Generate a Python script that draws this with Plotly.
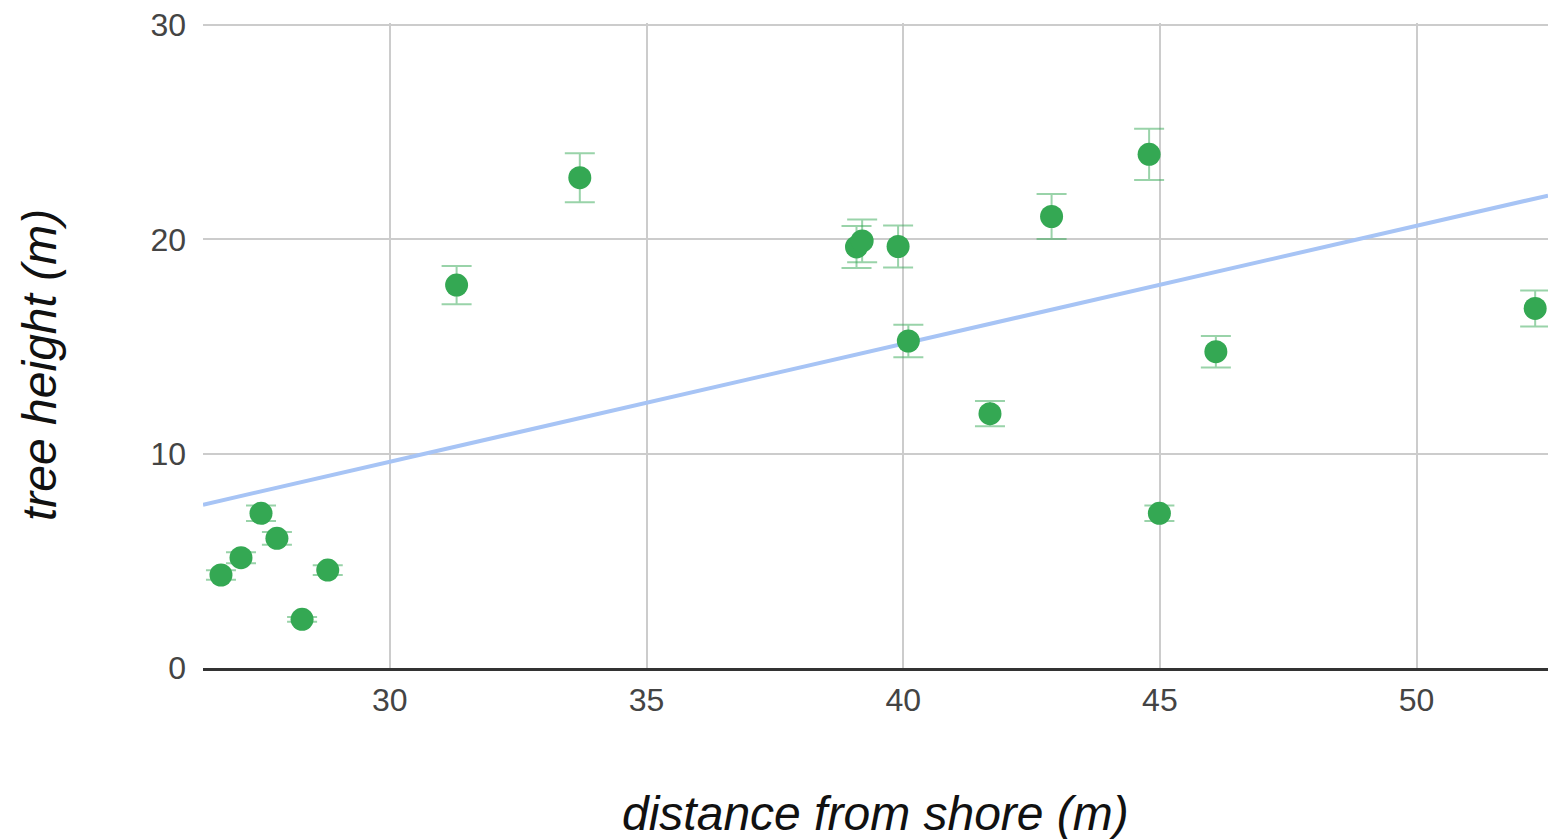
import numpy as np
import plotly.graph_objects as go

# distance from shore (m)
distance = [26.71, 27.10, 27.49, 27.80, 28.29, 28.79, 31.30, 33.70, 39.09, 39.20,
            39.90, 40.10, 41.69, 42.89, 44.79, 44.99, 46.09, 52.31]
# tree height (m)
height = [4.34, 5.15, 7.22, 6.05, 2.27, 4.57, 17.87, 22.88, 19.65, 19.93,
          19.67, 15.26, 11.87, 21.07, 23.97, 7.22, 14.76, 16.78]

x_ticks = [30, 35, 40, 45, 50]
y_ticks = [0, 10, 20, 30]
x_range = [26.36, 52.56]
y_range = [0, 30.1]
error_percent = 5

x_title = "distance from shore (m)"
y_title = "tree height (m)"

# least-squares linear trendline
slope, intercept = np.polyfit(distance, height, 1)
trend_x = np.array(x_range)
trend_y = slope * trend_x + intercept

font_family = "Liberation Sans, Arial, sans-serif"

fig = go.Figure()

fig.add_trace(go.Scatter(
    x=trend_x, y=trend_y, mode="lines",
    line=dict(color="#a7c4f5", width=4),
    hoverinfo="skip", showlegend=False,
))

fig.add_trace(go.Scatter(
    x=distance, y=height, mode="markers",
    marker=dict(color="#34a853", size=23, line=dict(width=0)),
    error_y=dict(type="percent", value=error_percent, color="rgba(52,168,83,0.5)",
                 thickness=2, width=15),
    showlegend=False,
))

fig.update_layout(
    width=1548, height=839,
    margin=dict(l=203, r=0, t=23, b=171),
    paper_bgcolor="white", plot_bgcolor="white",
    font=dict(family=font_family, color="#444444"),
)

fig.update_xaxes(
    range=x_range, tickvals=x_ticks, ticktext=[str(v) for v in x_ticks],
    showgrid=True, gridcolor="#cccccc", gridwidth=2,
    showline=True, linecolor="#333333", linewidth=3,
    zeroline=False, ticks="", ticklabelstandoff=2, ticklabeloverflow="allow",
    tickfont=dict(size=32, color="#444444"),
)
fig.update_yaxes(
    range=y_range, tickvals=y_ticks, ticktext=[str(v) for v in y_ticks],
    showgrid=True, gridcolor="#cccccc", gridwidth=2,
    showline=False, zeroline=False, ticks="", ticklabelstandoff=16,
    ticklabeloverflow="allow",
    tickfont=dict(size=32, color="#444444"),
)

fig.add_annotation(
    text=f"<i>{x_title}</i>", xref="paper", yref="paper",
    x=0.5, y=-0.2263, xanchor="center", yanchor="middle", showarrow=False,
    font=dict(size=48, color="#111111", family=font_family),
)
fig.add_annotation(
    text=f"<i>{y_title}</i>", xref="paper", yref="paper", textangle=-90,
    x=-0.1212, y=0.4698, xanchor="center", yanchor="middle", showarrow=False,
    font=dict(size=48, color="#111111", family=font_family),
)

# remove the default page margin so the figure fills the window exactly
fig.write_html(
    "out.html",
    config={"displayModeBar": False},
    post_script=(
        "document.body.style.margin='0';"
        "document.body.style.overflow='hidden';"
        "document.documentElement.style.overflow='hidden';"
    ),
)
